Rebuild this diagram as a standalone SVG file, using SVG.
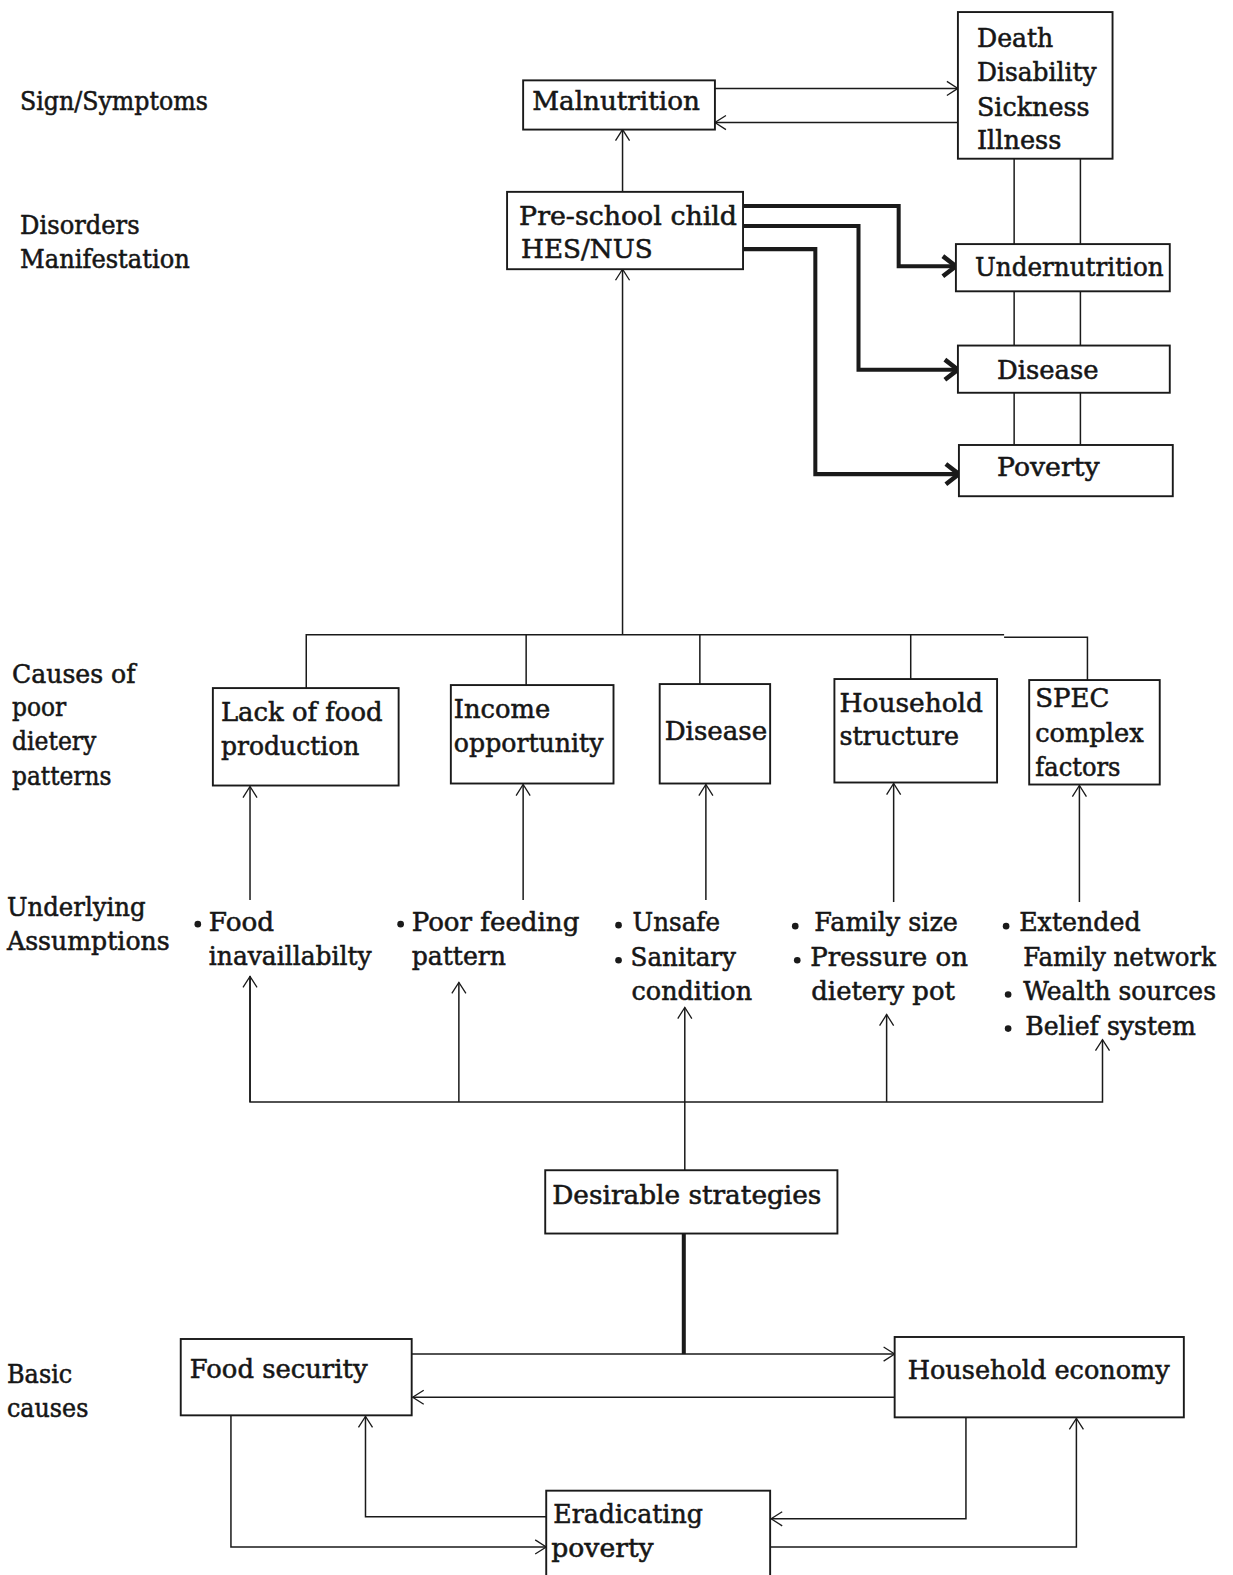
<svg xmlns="http://www.w3.org/2000/svg" width="1233" height="1575" viewBox="0 0 1233 1575">
<style>
text{font-family:"DejaVu Serif","Liberation Serif",serif;font-size:26px;fill:#161616;stroke:#161616;stroke-width:0.55}
.box{fill:#fff;stroke:#1a1a1a;stroke-width:1.9}
.ln{fill:none;stroke:#1a1a1a;stroke-width:1.5}
.thk{fill:none;stroke:#1a1a1a;stroke-width:4;stroke-linejoin:miter}
.dot{fill:#1a1a1a}
</style>
<defs>
<marker id="ah" markerUnits="userSpaceOnUse" orient="auto" refX="0" refY="0" markerWidth="30" markerHeight="30" viewBox="-15 -15 30 30" overflow="visible">
<path d="M-11,-7 L0,0 L-11,7" fill="none" stroke="#1a1a1a" stroke-width="1.3"/>
</marker>
<marker id="ahk" markerUnits="userSpaceOnUse" orient="auto" refX="0" refY="0" markerWidth="40" markerHeight="40" viewBox="-20 -20 40 40" overflow="visible">
<path d="M-13,-10 L0,0 L-13,10" fill="none" stroke="#1a1a1a" stroke-width="4.5"/>
</marker>
</defs>
<rect x="0" y="0" width="1233" height="1575" fill="#fff"/>
<g transform="scale(1.0041,1.0045)">
<g id="row-labels">
<text x="20" y="110" textLength="187" lengthAdjust="spacingAndGlyphs">Sign/Symptoms</text>
<text x="20" y="233" textLength="119" lengthAdjust="spacingAndGlyphs">Disorders</text>
<text x="20" y="267" textLength="169" lengthAdjust="spacingAndGlyphs">Manifestation</text>
<text x="12" y="680" textLength="123" lengthAdjust="spacingAndGlyphs">Causes of</text>
<text x="12" y="713" textLength="54" lengthAdjust="spacingAndGlyphs">poor</text>
<text x="12" y="747" textLength="84" lengthAdjust="spacingAndGlyphs">dietery</text>
<text x="12" y="781" textLength="99" lengthAdjust="spacingAndGlyphs">patterns</text>
<text x="7" y="912" textLength="138" lengthAdjust="spacingAndGlyphs">Underlying</text>
<text x="7" y="946" textLength="162" lengthAdjust="spacingAndGlyphs">Assumptions</text>
<text x="7" y="1377" textLength="65" lengthAdjust="spacingAndGlyphs">Basic</text>
<text x="7" y="1411" textLength="81" lengthAdjust="spacingAndGlyphs">causes</text>
</g>

<g id="connectors">
<line class="ln" x1="712" y1="88" x2="954" y2="88" marker-end="url(#ah)"/>
<line class="ln" x1="954" y1="122" x2="712" y2="122" marker-end="url(#ah)"/>
<line class="ln" x1="620" y1="191" x2="620" y2="129" marker-end="url(#ah)"/>
<line class="ln" x1="1010" y1="158" x2="1010" y2="243"/>
<line class="ln" x1="1076" y1="158" x2="1076" y2="243"/>
<line class="ln" x1="1010" y1="290" x2="1010" y2="344"/>
<line class="ln" x1="1076" y1="290" x2="1076" y2="344"/>
<line class="ln" x1="1010" y1="391" x2="1010" y2="443"/>
<line class="ln" x1="1076" y1="391" x2="1076" y2="443"/>
<path class="thk" d="M740,205 H895 V265 H952" marker-end="url(#ahk)"/>
<path class="thk" d="M740,225 H855 V368 H954" marker-end="url(#ahk)"/>
<path class="thk" d="M740,248 H812 V472 H955" marker-end="url(#ahk)"/>
<line class="ln" x1="620" y1="632" x2="620" y2="268" marker-end="url(#ah)"/>
<path class="ln" d="M305,685 V632 H1000"/>
<path class="ln" d="M1000,634.5 H1083 V677"/>
<line class="ln" x1="524" y1="632" x2="524" y2="682"/>
<line class="ln" x1="697" y1="632" x2="697" y2="681"/>
<line class="ln" x1="907" y1="632" x2="907" y2="676"/>
<line class="ln" x1="249" y1="896" x2="249" y2="783" marker-end="url(#ah)"/>
<line class="ln" x1="521" y1="896" x2="521" y2="781" marker-end="url(#ah)"/>
<line class="ln" x1="703" y1="896" x2="703" y2="781" marker-end="url(#ah)"/>
<line class="ln" x1="890" y1="898" x2="890" y2="780" marker-end="url(#ah)"/>
<line class="ln" x1="1075" y1="898" x2="1075" y2="782" marker-end="url(#ah)"/>
<path class="ln" d="M249,972 V1097 H1098 V1035" marker-end="url(#ah)"/>
<line class="ln" x1="249" y1="1097" x2="249" y2="972" marker-end="url(#ah)"/>
<line class="ln" x1="457" y1="1097" x2="457" y2="978" marker-end="url(#ah)"/>
<line class="ln" x1="883" y1="1097" x2="883" y2="1010" marker-end="url(#ah)"/>
<line class="ln" x1="682" y1="1165" x2="682" y2="1003" marker-end="url(#ah)"/>
<line class="thk" x1="681" y1="1228" x2="681" y2="1348"/>
<line class="ln" x1="410" y1="1348" x2="891" y2="1348" marker-end="url(#ah)"/>
<line class="ln" x1="891" y1="1391" x2="411" y2="1391" marker-end="url(#ah)"/>
<path class="ln" d="M230,1409 V1540 H544" marker-end="url(#ah)"/>
<path class="ln" d="M544,1510 H364 V1410" marker-end="url(#ah)"/>
<path class="ln" d="M962,1411 V1512 H768" marker-end="url(#ah)"/>
<path class="ln" d="M767,1540 H1072 V1412" marker-end="url(#ah)"/>
</g>

<g id="malnutrition">
<rect class="box" x="521" y="80" width="191" height="49"/>
<text x="530" y="110" textLength="167" lengthAdjust="spacingAndGlyphs">Malnutrition</text>
</g>
<g id="death">
<rect class="box" x="954" y="12" width="154" height="146"/>
<text x="973" y="47" textLength="76" lengthAdjust="spacingAndGlyphs">Death</text>
<text x="973" y="81" textLength="119" lengthAdjust="spacingAndGlyphs">Disability</text>
<text x="973" y="115" textLength="112" lengthAdjust="spacingAndGlyphs">Sickness</text>
<text x="973" y="148" textLength="84" lengthAdjust="spacingAndGlyphs">Illness</text>
</g>
<g id="preschool">
<rect class="box" x="505" y="191" width="235" height="77"/>
<text x="517" y="224" textLength="217" lengthAdjust="spacingAndGlyphs">Pre-school child</text>
<text x="519" y="257" textLength="131" lengthAdjust="spacingAndGlyphs">HES/NUS</text>
</g>
<g id="undernutrition">
<rect class="box" x="952" y="243" width="213" height="47"/>
<text x="971" y="275" textLength="188" lengthAdjust="spacingAndGlyphs">Undernutrition</text>
</g>
<g id="disease-outcome">
<rect class="box" x="954" y="344" width="211" height="47"/>
<text x="993" y="377" textLength="101" lengthAdjust="spacingAndGlyphs">Disease</text>
</g>
<g id="poverty">
<rect class="box" x="955" y="443" width="213" height="51"/>
<text x="993" y="474" textLength="102" lengthAdjust="spacingAndGlyphs">Poverty</text>
</g>

<g id="lack-food">
<rect class="box" x="212" y="685" width="185" height="97"/>
<text x="220" y="718" textLength="161" lengthAdjust="spacingAndGlyphs">Lack of food</text>
<text x="220" y="752" textLength="138" lengthAdjust="spacingAndGlyphs">production</text>
</g>
<g id="income">
<rect class="box" x="449" y="682" width="162" height="98"/>
<text x="452" y="715" textLength="96" lengthAdjust="spacingAndGlyphs">Income</text>
<text x="452" y="749" textLength="149" lengthAdjust="spacingAndGlyphs">opportunity</text>
</g>
<g id="disease-cause">
<rect class="box" x="657" y="681" width="110" height="99"/>
<text x="662" y="737" textLength="102" lengthAdjust="spacingAndGlyphs">Disease</text>
</g>
<g id="household-structure">
<rect class="box" x="831" y="676" width="162" height="103"/>
<text x="836" y="709" textLength="143" lengthAdjust="spacingAndGlyphs">Household</text>
<text x="836" y="742" textLength="119" lengthAdjust="spacingAndGlyphs">structure</text>
</g>
<g id="spec">
<rect class="box" x="1025" y="677" width="130" height="104"/>
<text x="1031" y="704" textLength="74" lengthAdjust="spacingAndGlyphs">SPEC</text>
<text x="1031" y="739" textLength="108" lengthAdjust="spacingAndGlyphs">complex</text>
<text x="1031" y="773" textLength="85" lengthAdjust="spacingAndGlyphs">factors</text>
</g>

<g id="assume-food">
<circle class="dot" cx="197" cy="920" r="3.3"/>
<text x="208" y="927" textLength="65" lengthAdjust="spacingAndGlyphs">Food</text>
<text x="208" y="961" textLength="162" lengthAdjust="spacingAndGlyphs">inavaillabilty</text>
</g>
<g id="assume-feeding">
<circle class="dot" cx="399" cy="920" r="3.3"/>
<text x="410" y="927" textLength="167" lengthAdjust="spacingAndGlyphs">Poor feeding</text>
<text x="410" y="961" textLength="94" lengthAdjust="spacingAndGlyphs">pattern</text>
</g>
<g id="assume-sanitary">
<circle class="dot" cx="616" cy="921" r="3.3"/>
<text x="630" y="927" textLength="87" lengthAdjust="spacingAndGlyphs">Unsafe</text>
<circle class="dot" cx="616" cy="956" r="3.3"/>
<text x="628" y="962" textLength="105" lengthAdjust="spacingAndGlyphs">Sanitary</text>
<text x="629" y="996" textLength="120" lengthAdjust="spacingAndGlyphs">condition</text>
</g>
<g id="assume-family">
<circle class="dot" cx="792" cy="922" r="3.3"/>
<text x="811" y="927" textLength="143" lengthAdjust="spacingAndGlyphs">Family size</text>
<circle class="dot" cx="794" cy="956" r="3.3"/>
<text x="807" y="962" textLength="157" lengthAdjust="spacingAndGlyphs">Pressure on</text>
<text x="808" y="996" textLength="143" lengthAdjust="spacingAndGlyphs">dietery pot</text>
</g>
<g id="assume-extended">
<circle class="dot" cx="1002" cy="922" r="3.3"/>
<text x="1015" y="927" textLength="121" lengthAdjust="spacingAndGlyphs">Extended</text>
<text x="1019" y="962" textLength="192" lengthAdjust="spacingAndGlyphs">Family network</text>
<circle class="dot" cx="1004" cy="990" r="3.3"/>
<text x="1019" y="996" textLength="192" lengthAdjust="spacingAndGlyphs">Wealth sources</text>
<circle class="dot" cx="1004" cy="1024" r="3.3"/>
<text x="1021" y="1030" textLength="170" lengthAdjust="spacingAndGlyphs">Belief system</text>
</g>

<g id="desirable">
<rect class="box" x="543" y="1165" width="291" height="63"/>
<text x="550" y="1199" textLength="268" lengthAdjust="spacingAndGlyphs">Desirable strategies</text>
</g>
<g id="food-security">
<rect class="box" x="180" y="1333" width="230" height="76"/>
<text x="189" y="1372" textLength="177" lengthAdjust="spacingAndGlyphs">Food security</text>
</g>
<g id="household-economy">
<rect class="box" x="891" y="1331" width="288" height="80"/>
<text x="904" y="1373" textLength="261" lengthAdjust="spacingAndGlyphs">Household economy</text>
</g>
<g id="eradicating">
<rect class="box" x="544" y="1484" width="223" height="100"/>
<text x="551" y="1516" textLength="149" lengthAdjust="spacingAndGlyphs">Eradicating</text>
<text x="549" y="1550" textLength="102" lengthAdjust="spacingAndGlyphs">poverty</text>
</g>
</g>
</svg>
